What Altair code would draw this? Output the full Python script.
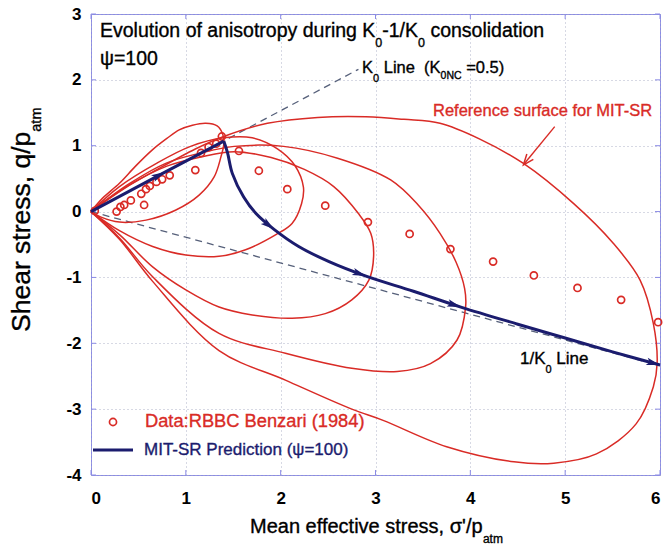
import math
import numpy as np
import pandas as pd
import altair as alt

FONT = "Liberation Sans"
RED = "#d92b26"
NAVY = "#1b1c6e"
DASH = "#56607a"
FRAME = "#8a8ae6"
GRID = "#a6abc4"

# plot area (pixels) and axis ranges
W, H = 569, 461
X_DOM = [0, 6]
Y_DOM = [-4, 3]
x_ticks = [0, 1, 2, 3, 4, 5, 6]
y_ticks = [-4, -3, -2, -1, 0, 1, 2, 3]

# RBBC test data, Benzari (1984)
data_p = [0.04, 0.27, 0.31, 0.35, 0.42, 0.56, 0.53, 0.58, 0.62, 0.69, 0.75, 0.83,
          1.10, 1.16, 1.24, 1.32, 1.38, 1.56, 1.77, 2.07, 2.47, 2.92, 3.36, 3.79,
          4.24, 4.67, 5.13, 5.59, 5.98]
data_q = [0.01, 0.00, 0.07, 0.10, 0.17, 0.10, 0.27, 0.34, 0.39, 0.45, 0.49, 0.55,
          0.63, 0.89, 0.98, 1.03, 1.14, 0.92, 0.62, 0.34, 0.09, -0.16, -0.34, -0.57,
          -0.76, -0.97, -1.16, -1.34, -1.68]

# MIT-SR predicted stress path (K0 loading, then 1/K0)
path_p = [0.00, 0.78, 1.40, 1.44, 1.49, 1.61, 1.74, 1.93, 2.19, 2.51, 2.90, 3.40,
          3.90, 4.50, 5.00, 5.50, 6.00]
path_q = [0.00, 0.60, 1.07, 0.89, 0.58, 0.22, -0.03, -0.27, -0.53, -0.76, -0.98, -1.21,
          -1.45, -1.71, -1.92, -2.13, -2.33]
path_corner = 2          # end of the straight K0 leg
head_idx = [1, 7, 10, 12, 16]

# evolving yield surfaces
s1_p = [0, 0.12, 0.30, 0.47, 0.65, 0.80, 0.93, 1.07, 1.21, 1.33, 1.39, 1.40, 1.37, 1.30,
        1.14, 0.89, 0.58, 0.30, 0.10, 0]
s1_q = [0, 0.20, 0.43, 0.69, 0.94, 1.11, 1.24, 1.31, 1.34, 1.30, 1.17, 1.02, 0.83, 0.53,
        0.25, 0.02, -0.13, -0.16, -0.08, 0]
s2_p = [0, 0.30, 0.70, 1.05, 1.40, 1.70, 1.97, 2.15, 2.24, 2.22, 2.12, 1.95, 1.63, 1.35,
        1.00, 0.65, 0.30, 0]
s2_q = [0, 0.38, 0.74, 0.99, 1.12, 1.12, 0.95, 0.70, 0.37, 0.12, -0.18, -0.35, -0.58, -0.68,
        -0.66, -0.53, -0.29, 0]
s3_p = [0, 0.40, 0.80, 1.16, 1.51, 1.90, 2.25, 2.56, 2.82, 2.95, 2.98, 2.93, 2.75, 2.47,
        2.12, 1.70, 1.35, 1.00, 0.65, 0.30, 0]
s3_q = [0, 0.40, 0.69, 0.83, 0.91, 0.82, 0.64, 0.38, -0.03, -0.33, -0.68, -1.04, -1.34, -1.55,
        -1.62, -1.57, -1.45, -1.19, -0.84, -0.35, 0]
s4_p = [0, 0.40, 0.80, 1.16, 1.51, 2.03, 2.60, 3.16, 3.45, 3.68, 3.85, 3.94, 3.95, 3.86,
        3.58, 3.23, 2.75, 2.05, 1.35, 0.65, 0.30, 0]
s4_q = [0, 0.42, 0.74, 0.89, 0.99, 0.99, 0.81, 0.48, 0.10, -0.33, -0.77, -1.17, -1.45, -1.95,
        -2.31, -2.43, -2.38, -2.15, -1.85, -0.99, -0.40, 0]
s5_p = [0, 0.35, 0.70, 1.10, 1.40, 1.86, 2.39, 2.90, 3.30, 3.68, 4.10, 4.56, 5.09, 5.50,
        5.79, 5.93, 5.97, 5.93, 5.75, 5.33, 4.88, 4.46, 3.75, 3.08, 2.75, 2.05, 1.35, 0.65,
        0.30, 0]
s5_q = [0, 0.35, 0.64, 0.95, 1.14, 1.34, 1.43, 1.44, 1.40, 1.34, 1.10, 0.73, 0.12, -0.47,
        -1.04, -1.70, -2.30, -2.66, -3.22, -3.68, -3.82, -3.80, -3.57, -3.17, -3.00, -2.56,
        -2.11, -1.06, -0.42, 0]

# K0 and 1/K0 reference lines
k0_p, k0_q = [0, 2.82], [0, 2.16]
ik0_p, ik0_q = [0, 6.0], [0, -2.34]

# pointer to the reference surface
ptr_p, ptr_q = [4.89, 4.56], [1.29, 0.71]

# Liberation Sans advance widths (1/1000 em) for laying out sub-scripted labels
AW = {" ": 278, "'": 191, "(": 333, ")": 333, ",": 278, "-": 333, ".": 278, "/": 278,
      ":": 278, "=": 584, "B": 667, "C": 722, "D": 722, "E": 667, "I": 278, "K": 667,
      "L": 556, "M": 833, "N": 722, "P": 667, "R": 722, "S": 667, "T": 611,
      "a": 556, "c": 500, "d": 556, "e": 556, "f": 278, "g": 556, "h": 556, "i": 222,
      "l": 222, "m": 833, "n": 556, "o": 556, "p": 556, "q": 556, "r": 333, "s": 500,
      "t": 278, "u": 556, "v": 500, "y": 500, "z": 500, "\u03c3": 617, "\u03c8": 712}


def text_width(s, size):
    return sum(AW.get(ch, 556) for ch in s) * size / 1000.0


anchor = pd.DataFrame({"a": [0]})
TXT_STROKE = 0.35


def rich_text(parts, x, y, color, angle=0):
    """Text made of runs; each run is (text, font size, baseline shift).
    Leading blanks of a run become horizontal offset (SVG drops them)."""
    layers = []
    off = 0.0
    for txt, size, shift in parts:
        body = txt.lstrip(" ")
        off += text_width(txt[: len(txt) - len(body)], size)
        kw = dict(text=body, fontSize=size, dx=round(off, 2), dy=shift, align="left",
                  baseline="alphabetic", color=color, font=FONT,
                  stroke=color, strokeWidth=TXT_STROKE)
        if angle:
            kw["angle"] = angle
        layers.append(alt.Chart(anchor).mark_text(**kw).encode(x=alt.value(x), y=alt.value(y)))
        off += text_width(body, size)
    return layers


x_axis = alt.Axis(values=x_ticks, title=None, ticks=False, domain=False, grid=True,
                  labelExpr="toString(datum.value)", labelPadding=15)
y_axis = alt.Axis(values=y_ticks, title=None, ticks=False, domain=False, grid=True,
                  labelExpr="toString(datum.value)", labelPadding=10)
xs = alt.Scale(domain=X_DOM, nice=False, zero=False)
ys = alt.Scale(domain=Y_DOM, nice=False, zero=False)


def X(f):
    return alt.X(f"{f}:Q", scale=xs, axis=x_axis)


def Y(f):
    return alt.Y(f"{f}:Q", scale=ys, axis=y_axis)


# yield surfaces
surf_rows = []
for name, ps, qs in [("s1", s1_p, s1_q), ("s2", s2_p, s2_q), ("s3", s3_p, s3_q),
                     ("s4", s4_p, s4_q), ("s5", s5_p, s5_q)]:
    for i, (p, q) in enumerate(zip(ps, qs)):
        surf_rows.append({"surface": name, "i": i, "p": p, "q": q})
surf_df = pd.DataFrame(surf_rows)
surfaces = alt.Chart(surf_df).mark_line(
    color=RED, strokeWidth=1.5, interpolate="catmull-rom"
).encode(x=X("p"), y=Y("q"), detail="surface:N", order="i:Q")

# dashed K0 / 1/K0 lines
ref_df = pd.DataFrame({
    "p": k0_p + ik0_p, "q": k0_q + ik0_q,
    "line": ["k0"] * len(k0_p) + ["ik0"] * len(ik0_p),
    "i": list(range(len(k0_p))) + list(range(len(ik0_p))),
})
ref_lines = alt.Chart(ref_df).mark_line(
    color=DASH, strokeWidth=1.3, strokeDash=[7, 5]
).encode(x=X("p"), y=Y("q"), detail="line:N", order="i:Q")

# data points
pts = alt.Chart(pd.DataFrame({"p": data_p, "q": data_q})).mark_point(
    shape="circle", filled=False, size=50, strokeWidth=1.7, color=RED, opacity=1
).encode(x=X("p"), y=Y("q"))

# predicted path
path_df = pd.DataFrame({"p": path_p, "q": path_q, "i": range(len(path_p))})
leg1 = alt.Chart(path_df.iloc[: path_corner + 1]).mark_line(
    color=NAVY, strokeWidth=3
).encode(x=X("p"), y=Y("q"), order="i:Q")
leg2 = alt.Chart(path_df.iloc[path_corner:]).mark_line(
    color=NAVY, strokeWidth=3, interpolate="catmull-rom"
).encode(x=X("p"), y=Y("q"), order="i:Q")

sx = W / (X_DOM[1] - X_DOM[0])
sy = H / (Y_DOM[1] - Y_DOM[0])


def screen_angle(dp, dq):
    return math.degrees(math.atan2(-dq * sy, dp * sx)) % 360


heads = []
n = len(path_p)
for k in head_idx:
    a, b = max(k - 1, 0), min(k + 1, n - 1)
    heads.append({"p": path_p[k], "q": path_q[k],
                  "ang": screen_angle(path_p[b] - path_p[a], path_q[b] - path_q[a])})
ARROW = "M0,0 L-2,-0.55 L-1.55,0 L-2,0.55 Z"
arrow_heads = alt.Chart(pd.DataFrame(heads)).mark_point(
    shape=ARROW, filled=True, size=190, color=NAVY, opacity=1
).encode(x=X("p"), y=Y("q"), angle=alt.Angle("ang:Q", scale=None))

# pointer to the reference surface
ptr_df = pd.DataFrame({"p": ptr_p, "q": ptr_q, "i": [0, 1]})
ptr_line = alt.Chart(ptr_df).mark_line(color=RED, strokeWidth=1.4).encode(
    x=X("p"), y=Y("q"), order="i:Q")
ptr_head = alt.Chart(pd.DataFrame([{
    "p": ptr_p[1], "q": ptr_q[1],
    "ang": screen_angle(ptr_p[1] - ptr_p[0], ptr_q[1] - ptr_q[0])}])).mark_point(
    shape="M-2,-0.8 L0,0 L-2,0.8", filled=False, size=110, strokeWidth=1.5, color=RED, opacity=1
).encode(x=X("p"), y=Y("q"), angle=alt.Angle("ang:Q", scale=None))

# inward ticks on all four sides
xt = pd.DataFrame({"t": x_ticks})
yt = pd.DataFrame({"t": y_ticks})
tick_layers = [
    alt.Chart(xt).mark_rule(color=FRAME, strokeWidth=1).encode(x=X("t"), y=alt.value(H), y2=alt.value(H - 5)),
    alt.Chart(xt).mark_rule(color=FRAME, strokeWidth=1).encode(x=X("t"), y=alt.value(0), y2=alt.value(5)),
    alt.Chart(yt).mark_rule(color=FRAME, strokeWidth=1).encode(y=Y("t"), x=alt.value(0), x2=alt.value(5)),
    alt.Chart(yt).mark_rule(color=FRAME, strokeWidth=1).encode(y=Y("t"), x=alt.value(W), x2=alt.value(W - 5)),
]

# annotations
texts = []
texts += rich_text([("Evolution of anisotropy during K", 19.5, 0), ("0", 12.5, 10),
                    ("-1/K", 19.5, 0), ("0", 12.5, 10), (" consolidation", 19.5, 0)],
                   9, 23, "black")
texts += rich_text([("\u03c8=100", 19.5, 0)], 9, 51, "black")
texts += rich_text([("K", 16.5, 0), ("0", 11, 9), (" Line", 16.5, 0), ("  (K", 16.5, 0),
                    ("0NC", 10.5, 6), (" =0.5)", 16.5, 0)], 271, 59, "black")
texts += rich_text([("Reference surface for MIT-SR", 16.5, 0)], 342, 102, RED)
texts += rich_text([("1/K", 17, 0), ("0", 11, 9), (" Line", 17, 0)], 429, 350, "black")
# axis titles
texts += rich_text([("Mean effective stress, \u03c3'/p", 20, 0), ("atm", 12, 10)], 159, 519, "black")
texts += rich_text([("Shear stress, q/p", 26.5, 0), ("atm", 14.5, 11)], -61, 318, "black", angle=270)

# legend
legend = [
    alt.Chart(anchor).mark_point(shape="circle", filled=False, size=50, strokeWidth=1.7,
                                 color=RED, opacity=1).encode(x=alt.value(22), y=alt.value(408)),
    alt.Chart(anchor).mark_rule(color=NAVY, strokeWidth=3).encode(
        x=alt.value(2), x2=alt.value(42), y=alt.value(436)),
    alt.Chart(anchor).mark_text(text="Data:RBBC Benzari (1984)", fontSize=18.3, align="left",
                                baseline="middle", color=RED, font=FONT,
                                stroke=RED, strokeWidth=TXT_STROKE).encode(
        x=alt.value(54), y=alt.value(408)),
    alt.Chart(anchor).mark_text(text="MIT-SR Prediction (\u03c8=100)", fontSize=17, align="left",
                                baseline="middle", color=NAVY, font=FONT,
                                stroke=NAVY, strokeWidth=TXT_STROKE).encode(
        x=alt.value(53), y=alt.value(436)),
]

chart = alt.layer(
    *tick_layers, ref_lines, surfaces, pts, leg1, leg2, arrow_heads, ptr_line, ptr_head,
    *texts, *legend
).properties(
    width=W, height=H,
    padding={"left": 91, "top": 14, "right": 665 - 91 - W, "bottom": 550 - 14 - H},
    autosize=alt.AutoSizeParams(type="none"),
    background="white",
).configure_view(
    stroke=FRAME, strokeWidth=1
).configure_axis(
    labelFont=FONT, labelFontSize=17, labelFontWeight="bold", labelColor="black",
    gridColor=GRID, gridDash=[1, 3], gridWidth=1, gridOpacity=0.9,
)

chart.save("out.html", embed_options={"renderer": "svg", "actions": False})
